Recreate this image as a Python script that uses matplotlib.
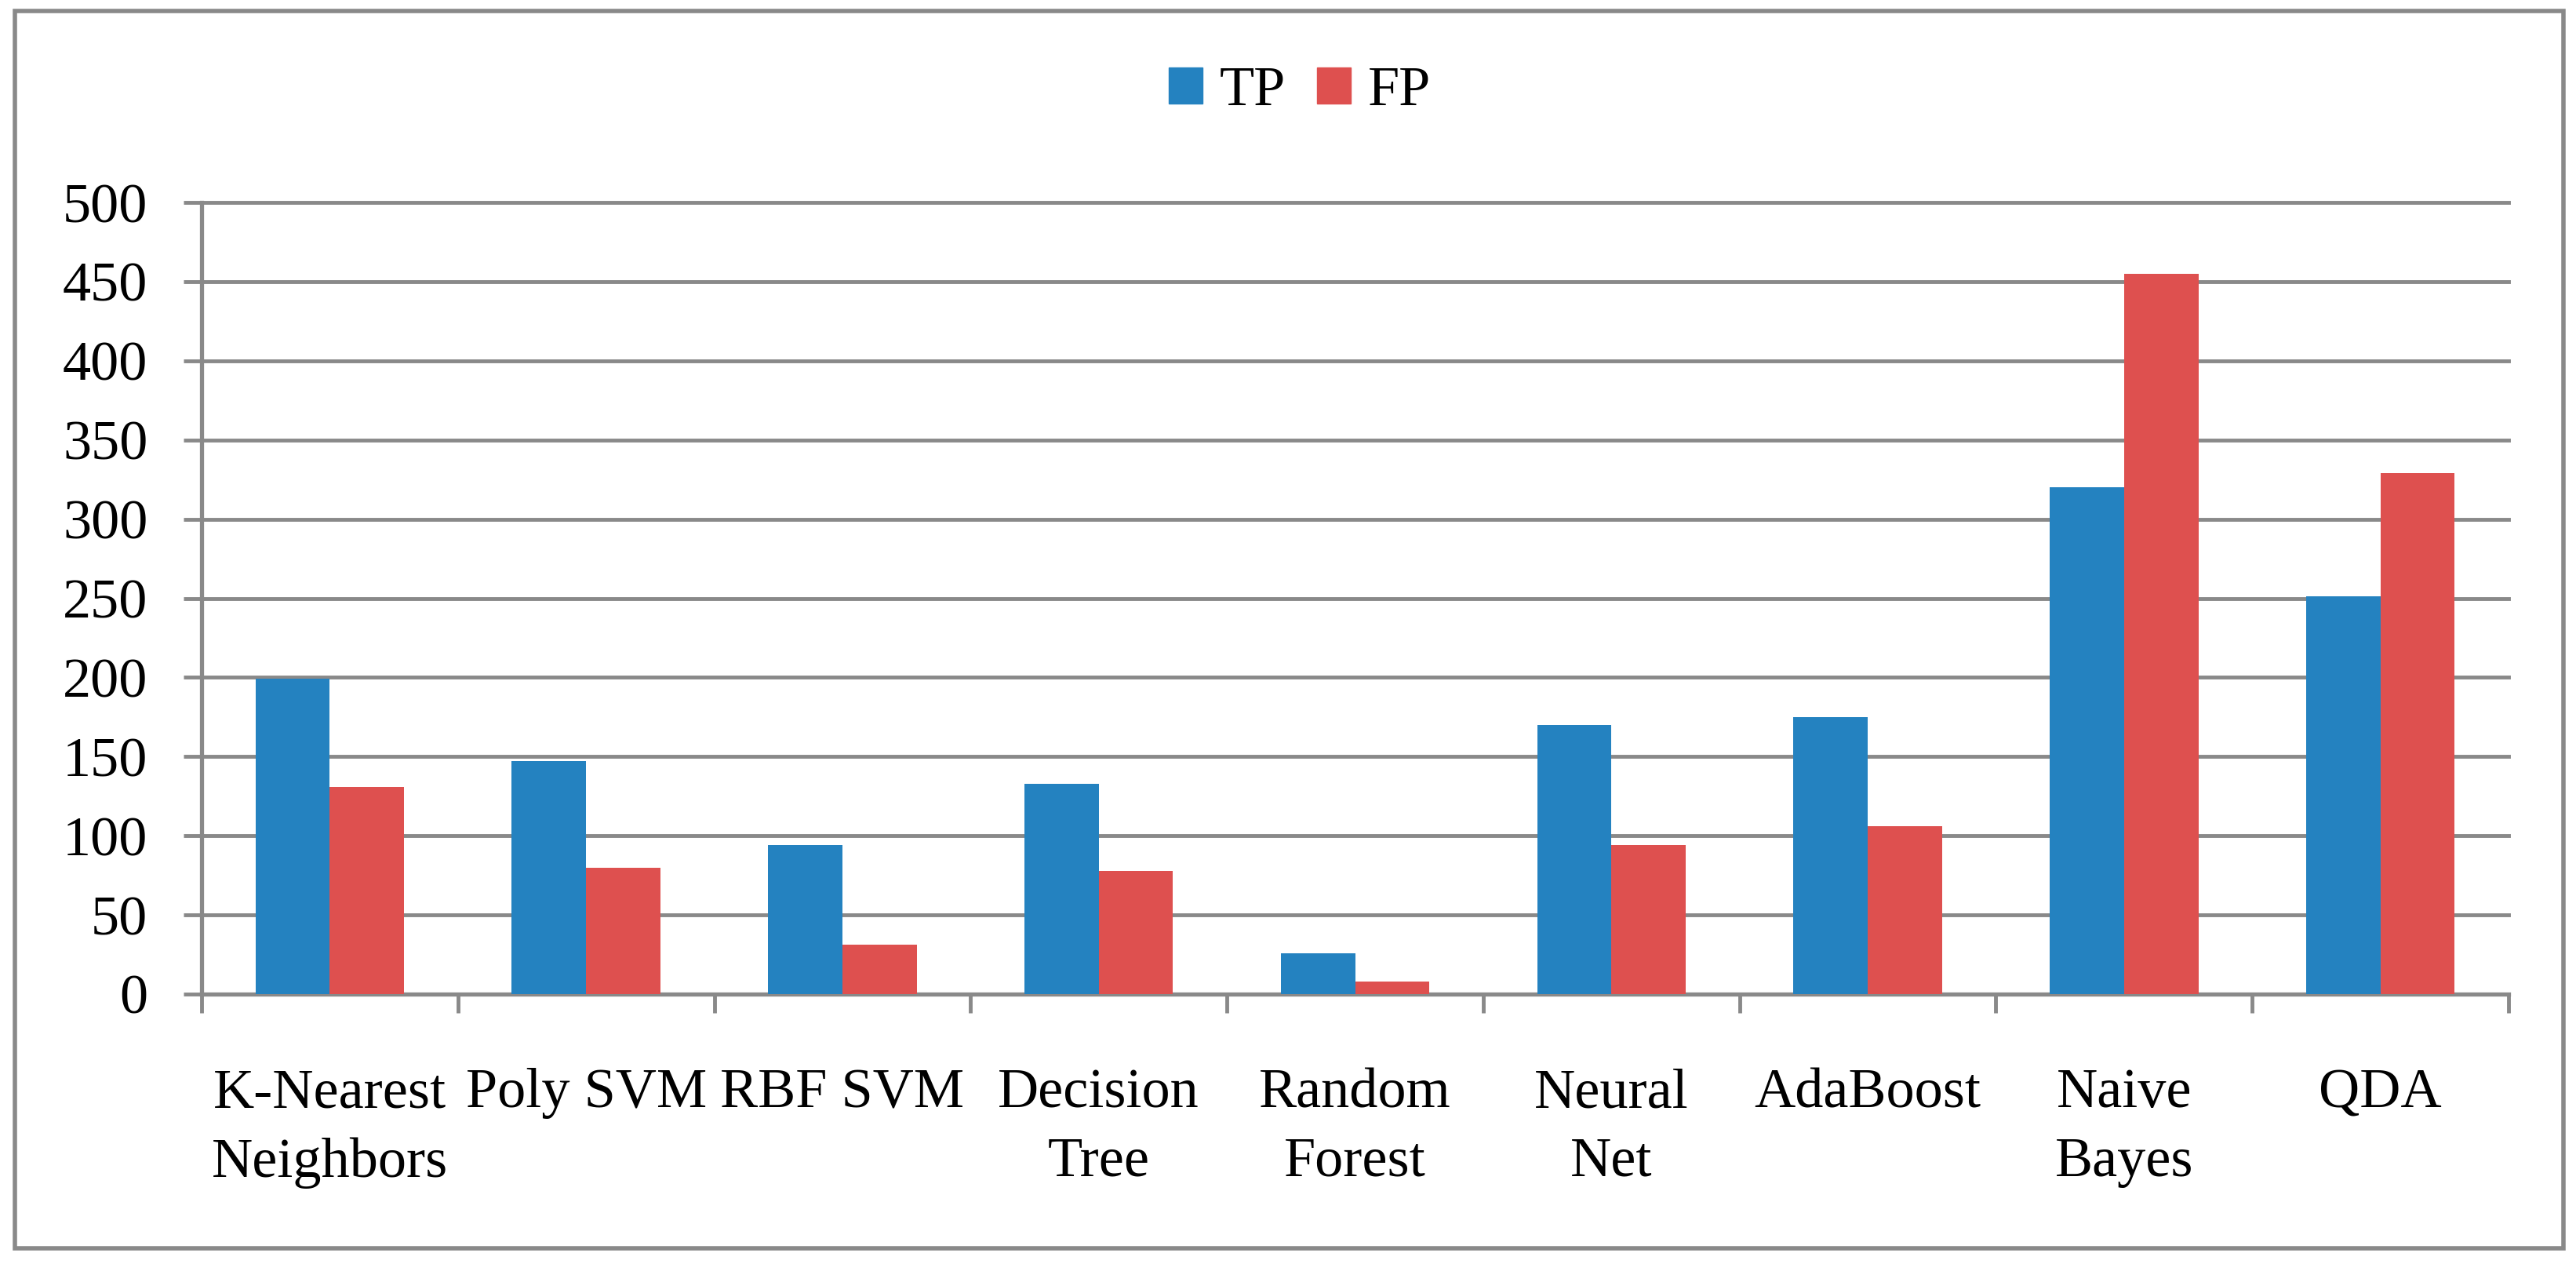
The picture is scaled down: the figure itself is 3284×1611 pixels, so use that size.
import numpy as np
import matplotlib
matplotlib.use('Agg')
import matplotlib.pyplot as plt
from matplotlib.patches import Rectangle, Patch

plt.rcParams['font.family'] = ['Liberation Serif', 'DejaVu Serif']
plt.rcParams['font.size'] = 52

categories = ['K-Nearest\nNeighbors', 'Poly SVM', 'RBF SVM', 'Decision\nTree',
              'Random\nForest', 'Neural\nNet', 'AdaBoost', 'Naive\nBayes', 'QDA']
tp = [199, 147, 94, 133, 26, 170, 175, 320, 251]
fp = [131, 80, 31, 78, 8, 94, 106, 455, 329]
yticks = [0, 50, 100, 150, 200, 250, 300, 350, 400, 450, 500]

blue = '#2482C0'
red = '#DE504F'
grey = '#898989'

fig = plt.figure(figsize=(32.84, 16.11), dpi=100)
ax = fig.add_axes([257 / 3284, 1 - 1267 / 1611, (3198 - 257) / 3284, (1267 - 258) / 1611])

x = np.arange(len(categories))
w = 0.29
ax.bar(x - w / 2, tp, w, color=blue, zorder=3)
ax.bar(x + w / 2, fp, w, color=red, zorder=3)

ax.set_xlim(-0.5, len(categories) - 0.5)
ax.set_ylim(0, 500)
ax.set_yticks(yticks)
ax.yaxis.grid(True, color=grey, linewidth=3.5, zorder=0)
for gl in ax.get_ygridlines():
    gl.set_clip_on(False)
ax.set_axisbelow(True)

# category labels at centres, tick marks at the boundaries
ax.set_xticks(x)
ax.set_xticklabels(categories, linespacing=1.45)
ax.set_xticks(np.arange(len(categories) + 1) - 0.5, minor=True)
ax.tick_params(axis='x', which='major', length=0, pad=68)
ax.tick_params(axis='x', which='minor', length=17, width=3.5, color=grey, direction='out')
ax.tick_params(axis='y', length=16.5, width=3.5, color=grey, pad=33)

for side in ['top', 'right']:
    ax.spines[side].set_visible(False)
for side in ['left', 'bottom']:
    ax.spines[side].set_color(grey)
    ax.spines[side].set_linewidth(3.8)

handles = [Patch(color=blue, label='TP'), Patch(color=red, label='FP')]
fig.legend(handles=handles, loc='center', bbox_to_anchor=(0.5045, 1 - 117 / 1611), ncol=2,
           frameon=False, handlelength=0.6, handleheight=0.6, handletextpad=0.3,
           columnspacing=0.55, fontsize=52)

# outer chart border
fig.patches.append(Rectangle((19 / 3284, 1 - 1591 / 1611), (3268 - 19) / 3284, (1591 - 14) / 1611,
                             transform=fig.transFigure, fill=False, edgecolor=grey, linewidth=4))

fig.savefig('out.png', dpi=100)
